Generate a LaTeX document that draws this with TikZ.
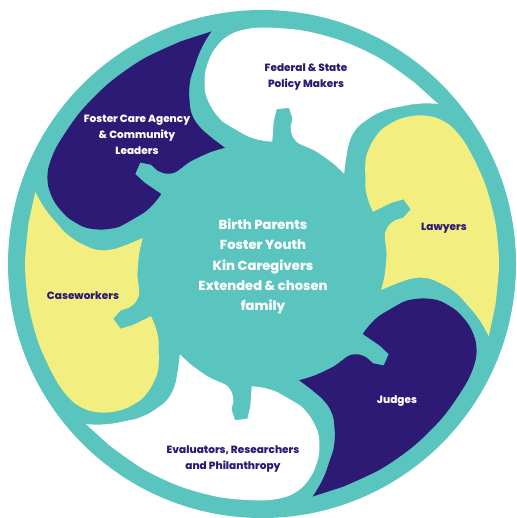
\documentclass[tikz,border=0pt]{standalone}
\usepackage{fontspec}
\setmainfont{Poppins}[BoldFont={Poppins ExtraBold}]
\definecolor{ringteal}{HTML}{5AC4BE}
\definecolor{inkpurple}{HTML}{2C1A74}
\definecolor{softyellow}{HTML}{F2EF80}
\begin{document}
\begin{tikzpicture}[x=1pt, y=1pt,
    petaltext/.style={font=\bfseries\fontsize{10.5}{16}\selectfont, align=center, text=inkpurple},
    hubtext/.style={font=\bfseries\fontsize{13.1}{20.3}\selectfont, align=center, text=white}]
  \useasboundingbox (-262,-254) rectangle (254,264);
  % teal disc: outer ring and hub
  \fill[ringteal] (0,0) circle (254);

  % six petals, turned by 60 degrees each
  \foreach \k/\c in {0/white, 1/softyellow, 2/inkpurple, 3/white, 4/softyellow, 5/inkpurple} {
    \begin{scope}[rotate=-60*\k]
      \fill[\c] (42.3:238)
        -- plot[smooth] coordinates {(50:237) (60:237) (70:237) (80:237) (90:236.5) (96:234)
             (100:227.5) (103.5:216) (106.5:200) (108.2:183) (108.3:172) (107.6:161)
             (105.5:148) (100.6:136) (96:128) (92:124.5) (88.5:123) (85.2:122.7)}
        -- (85.3:143) -- (84.6:155.5) -- (80.2:158.5) -- (78.2:149)
        -- plot[smooth] coordinates {(78.2:140) (76.9:132.4) (73.4:126.2) (65:125) (55:123.2) (47.7:122)}
        -- plot[smooth] coordinates {(51:133) (53.8:146) (55:157) (55:168) (54:178) (52.8:188)
             (51:199) (49:208) (47:218) (45:227) (43.3:234)}
        -- cycle;
    \end{scope}
  }

  % labels
  \node[hubtext] (hub) at (1,-2.5) {Birth Parents\\Foster Youth\\Kin Caregivers\\Extended \& chosen\\family};
  \node[petaltext] (policy) at (44,187) {Federal \& State\\Policy Makers};
  \node[petaltext] (lawyers) at (182,36) {Lawyers};
  \node[petaltext, text=white] (judges) at (135,-137) {Judges};
  \node[petaltext] (research) at (-29,-195) {Evaluators, Researchers\\and Philanthropy};
  \node[petaltext] (casework) at (-179,-32) {Caseworkers};
  \node[petaltext, text=white] (agency) at (-125,129) {Foster Care Agency\\\& Community\\Leaders};
\end{tikzpicture}
\end{document}
